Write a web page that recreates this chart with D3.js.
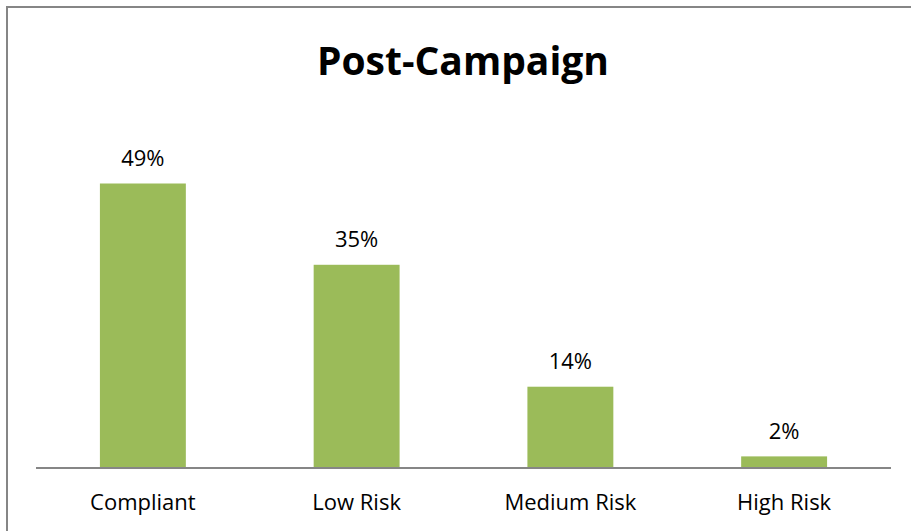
<!DOCTYPE html>
<html><head><meta charset="utf-8">
<script src="https://cdn.jsdelivr.net/npm/d3@7"></script>
<style>html,body{margin:0;padding:0;background:#fff;overflow:hidden;width:911px;height:531px}svg{display:block}</style>
</head><body>
<svg id="c" width="911" height="531"></svg>
<script>
const categories = ["Compliant", "Low Risk", "Medium Risk", "High Risk"];
const values = [49, 35, 14, 2];
const valueLabels = ["49%", "35%", "14%", "2%"];
const title = "Post-Campaign";

const svg = d3.select("#c");
const font = "'Open Sans', 'Noto Sans', sans-serif";

svg.append("rect").attr("width", 911).attr("height", 531).attr("fill", "#fff");
svg.append("path").attr("d", "M7,540V7H920").attr("fill", "none")
  .attr("stroke", "#868686").attr("stroke-width", 2);

const x = d3.scaleBand().domain(categories).range([36, 891]).paddingInner(0.598).paddingOuter(0.299);
const y = d3.scaleLinear().domain([0, 49]).range([468, 183.5]);

svg.append("text").attr("x", 463).attr("y", 75).attr("text-anchor", "middle")
  .attr("font-family", font).attr("font-weight", "bold").attr("font-size", 39)
  .attr("fill", "#000").text(title);

svg.selectAll("rect.bar").data(values).join("rect").attr("class", "bar")
  .attr("x", (d, i) => x(categories[i])).attr("width", x.bandwidth())
  .attr("y", d => y(d)).attr("height", d => y(0) - y(d)).attr("fill", "#9BBB59");

svg.selectAll("text.val").data(values).join("text").attr("class", "val")
  .attr("x", (d, i) => x(categories[i]) + x.bandwidth() / 2).attr("y", d => y(d) - 17.5)
  .attr("text-anchor", "middle").attr("font-family", font).attr("font-size", 22)
  .attr("fill", "#000").text((d, i) => valueLabels[i]);

const xAxis = d3.axisBottom(x).tickSize(0).tickPadding(0);
const gx = svg.append("g").attr("transform", "translate(0,468)").call(xAxis);
gx.select(".domain").attr("stroke", "#868686").attr("stroke-width", 2).attr("d", "M36,0H891");
gx.selectAll(".tick text").attr("font-family", font).attr("font-size", 22).attr("fill", "#000")
  .attr("dy", null).attr("y", 42);
</script>
</body></html>
